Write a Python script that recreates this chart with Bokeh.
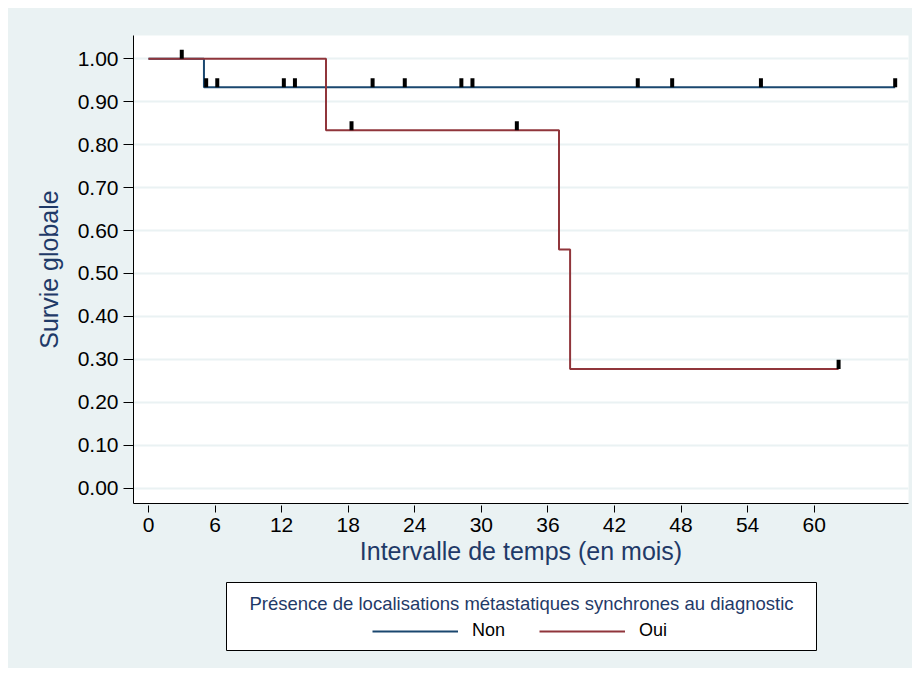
from bokeh.plotting import figure
from bokeh.layouts import column
from bokeh.models import (Legend, LegendItem, Label, BoxAnnotation, FixedTicker,
                          PrintfTickFormatter, Range1d)
from bokeh.embed import file_html
from bokeh.resources import INLINE
import numpy as np

# ---- data ----
non_times = [0, 5.0, 67.3]
non_surv = [1.0, 0.9333, 0.9333]
non_censor = [5.2, 6.2, 12.2, 13.2, 20.2, 23.1, 28.2, 29.2, 44.1, 47.2, 55.2, 67.3]

oui_times = [0, 16.0, 37.0, 38.0, 62.2]
oui_surv = [1.0, 0.8333, 0.5556, 0.2778, 0.2778]
oui_censor = [3.0, 18.3, 33.2, 62.2]

x_ticks = [0, 6, 12, 18, 24, 30, 36, 42, 48, 54, 60]
y_ticks = [0.0, 0.1, 0.2, 0.3, 0.4, 0.5, 0.6, 0.7, 0.8, 0.9, 1.0]

series_names = ["Non", "Oui"]
legend_title = "Présence de localisations métastatiques synchrones au diagnostic"
x_title = "Intervalle de temps (en mois)"
y_title = "Survie globale"

BLUE = "#1a476f"
RED = "#90353b"
BG = "#eaf2f3"
NAVY = "#1f3a68"
FONT = "Liberation Sans"

W = 904
BL, BR = 125, 4   # left / right borders shared by both figures


def surv_at(times, surv, t):
    idx = np.searchsorted(np.array(times), t, side="right") - 1
    return np.array(surv)[idx]


# ---------------- main plot ----------------
p = figure(width=W, height=567, output_backend="svg", toolbar_location=None,
           x_range=Range1d(-1.35, 68.5), y_range=Range1d(-0.0356, 1.054),
           min_border_left=BL, min_border_right=BR, min_border_top=27,
           min_border_bottom=72)
p.background_fill_color = "white"
p.border_fill_color = BG
p.outline_line_color = None

p.xgrid.visible = False
p.ygrid.ticker = FixedTicker(ticks=y_ticks)
p.ygrid.grid_line_color = BG
p.ygrid.grid_line_width = 2

for ax in (p.xaxis[0], p.yaxis[0]):
    ax.minor_tick_line_color = None
    ax.axis_line_color = "black"
    ax.major_tick_line_color = "black"
    ax.major_label_text_font = FONT
    ax.major_label_text_font_size = "21px"
    ax.major_label_text_color = "black"
    ax.axis_label_text_font = FONT
    ax.axis_label_text_font_size = "25px"
    ax.axis_label_text_font_style = "normal"
    ax.axis_label_text_color = NAVY

p.xaxis.ticker = FixedTicker(ticks=x_ticks)
p.xaxis.major_tick_in = -2
p.xaxis.major_tick_out = 9
p.xaxis.axis_label = x_title
p.xaxis.major_label_standoff = 5
p.xaxis.axis_label_standoff = 2

p.yaxis.ticker = FixedTicker(ticks=y_ticks)
p.yaxis.major_tick_in = 0
p.yaxis.major_tick_out = 10
p.yaxis.formatter = PrintfTickFormatter(format="%.2f")
p.yaxis.major_label_orientation = "horizontal"
p.yaxis.axis_label = y_title
p.yaxis.major_label_standoff = 5
p.yaxis.axis_label_standoff = 12

p.step(non_times, non_surv, mode="after", line_color=BLUE, line_width=2)
p.step(oui_times, oui_surv, mode="after", line_color=RED, line_width=2)

for times, surv, cens in ((non_times, non_surv, non_censor), (oui_times, oui_surv, oui_censor)):
    s = surv_at(times, surv, cens)
    p.vbar(x=cens, bottom=s, top=s + 0.021, width=0.36,
           fill_color="black", line_color=None)

# ---------------- legend strip (coordinates = figure pixels) ----------------
LH = 93
lg = figure(width=W, height=LH, output_backend="svg", toolbar_location=None,
            x_range=Range1d(BL, W - BR), y_range=Range1d(0, LH),
            x_axis_type=None, y_axis_type=None,
            min_border_left=BL, min_border_right=BR,
            min_border_top=0, min_border_bottom=0)
lg.background_fill_color = None
lg.border_fill_color = BG
lg.outline_line_color = None
lg.grid.visible = False

box = BoxAnnotation(left=218, right=808, top=86, bottom=18,
                    fill_color="white", fill_alpha=1.0,
                    line_color="black", line_width=1, line_alpha=1.0)
lg.add_layout(box)

lg.add_layout(Label(x=513, y=65, text=legend_title,
                    text_align="center", text_baseline="middle", text_font=FONT,
                    text_font_size="18.5px", text_color=NAVY))

# placeholder renderers (outside the visible range) that only feed the legend glyphs
d_non = lg.line([0, 1], [-50, -50], line_color=BLUE, line_width=2)
d_oui = lg.line([0, 1], [-50, -50], line_color=RED, line_width=2)

legend = Legend(items=[LegendItem(label=series_names[0], renderers=[d_non]),
                       LegendItem(label=series_names[1], renderers=[d_oui])],
                orientation="horizontal", location=(239, 27),
                padding=0, margin=0, spacing=34, label_standoff=14,
                glyph_width=86, glyph_height=20,
                label_text_font=FONT, label_text_font_size="18px",
                label_text_color="black",
                border_line_alpha=0, background_fill_alpha=0)
lg.add_layout(legend, "center")

layout = column(p, lg, spacing=0, margin=(8, 8, 8, 8),
                styles={"background-color": BG})

open("out.html", "w").write(file_html(layout, INLINE))
